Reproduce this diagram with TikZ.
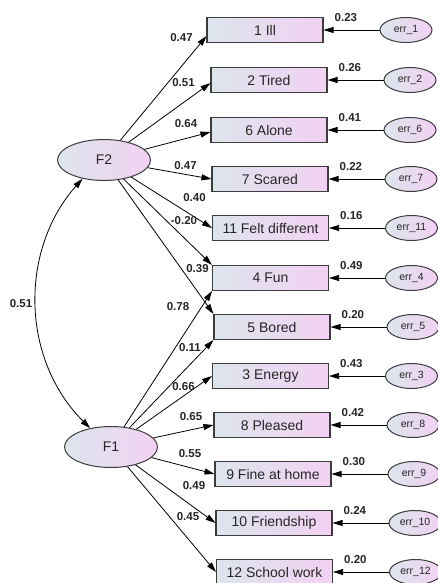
\documentclass[tikz,border=0pt]{standalone}
\usepackage{fontspec}
\setmainfont{Liberation Sans}
\usetikzlibrary{arrows.meta, shapes.geometric}

\definecolor{shadeblue}{RGB}{220,229,236}
\definecolor{shadepink}{RGB}{243,209,243}
\definecolor{rimgray}{RGB}{60,60,60}

\begin{document}
\begin{tikzpicture}[
    x=1pt, y=-1pt,
    >={Triangle[length=10pt, width=6pt]}, % filled heads as in AMOS
    item/.style={draw=rimgray, line width=1.1pt, left color=shadeblue, right color=shadepink,
        minimum width=116pt, minimum height=25pt, inner sep=0pt,
        font=\fontsize{14}{16}\selectfont, text=black!85}, % observed items
    factor/.style={ellipse, draw=rimgray, line width=1pt, left color=shadeblue, right color=shadepink,
        minimum width=93pt, minimum height=41pt, inner sep=0pt,
        font=\fontsize{14}{16}\selectfont, text=black!85}, % latent factors
    errterm/.style={ellipse, draw=rimgray, line width=1pt, left color=shadeblue, right color=shadepink,
        minimum width=52pt, minimum height=25pt, inner sep=0pt,
        font=\fontsize{10.5}{12}\selectfont, text=black!85}, % residuals
    load/.style={->, line width=0.8pt}, % factor loadings
    resid/.style={->, line width=0.8pt},
    coef/.style={font=\bfseries\fontsize{11.5}{13}\selectfont, inner sep=1pt, text=black!85}
]
    \useasboundingbox (0,0) rectangle (438,583);

    % === Latent factors ===
    \node[factor] (F2) at (104,160) {F2};
    \node[factor] (F1) at (111,447) {F1};

    % === Items ===
    \node[item] (ill)     at (265,30)    {1 Ill};
    \node[item] (tired)   at (269,80)    {2 Tired};
    \node[item] (alone)   at (269,130)   {6 Alone};
    \node[item] (scared)  at (270,179)   {7 Scared};
    \node[item] (felt)    at (270.5,228) {11 Felt different};
    \node[item] (fun)     at (270.5,278) {4 Fun};
    \node[item] (bored)   at (272,327)   {5 Bored};
    \node[item] (energy)  at (270.5,376) {3 Energy};
    \node[item] (pleased) at (272,425)   {8 Pleased};
    \node[item] (fine)    at (273,474)   {9 Fine at home};
    \node[item] (friend)  at (274,523)   {10 Friendship};
    \node[item] (school)  at (274.5,572) {12 School work};

    % === Error terms ===
    \node[errterm] (e1)  at (406,30)    {err\_1};
    \node[errterm] (e2)  at (410,80)    {err\_2};
    \node[errterm] (e6)  at (410,130)   {err\_6};
    \node[errterm] (e7)  at (411,179)   {err\_7};
    \node[errterm] (e11) at (411.5,228) {err\_11};
    \node[errterm] (e4)  at (411.5,278) {err\_4};
    \node[errterm] (e5)  at (413,327)   {err\_5};
    \node[errterm] (e3)  at (411.5,376) {err\_3};
    \node[errterm] (e8)  at (413,425)   {err\_8};
    \node[errterm] (e9)  at (414,474)   {err\_9};
    \node[errterm] (e10) at (415,523)   {err\_10};
    \node[errterm] (e12) at (415.5,572) {err\_12};

    % === Loadings on F2 ===
    \draw[load] (F2) -- (ill.186);
    \draw[load] (F2) -- (tired.183);
    \draw[load] (F2) -- (alone.182);
    \draw[load] (F2) -- (scared.west);
    \draw[load] (F2) -- (felt.west);
    \draw[load] (F2) -- (fun.north west);
    \draw[load] (F2) -- (bored.north west);

    % === Loadings on F1 ===
    \draw[load] (F1) -- (fun.south west);
    \draw[load] (F1) -- (bored.south west);
    \draw[load] (F1) -- (energy.west);
    \draw[load] (F1) -- (pleased.west);
    \draw[load] (F1) -- (fine.west);
    \draw[load] (F1) -- (friend.west);
    \draw[load] (F1) -- (school.west);

    % === Loading values ===
    \node[coef] (c-ill)     at (181.5,37.5) {0.47};
    \node[coef] (c-tired)   at (183.5,82.5) {0.51};
    \node[coef] (c-alone)   at (186,124)    {0.64};
    \node[coef] (c-scared)  at (185.5,166)  {0.47};
    \node[coef] (c-felt)    at (194.5,198)  {0.40};
    \node[coef] (c-funF2)   at (184,220.5)  {-0.20};
    \node[coef] (c-boredF2) at (197.5,269)  {0.39};
    \node[coef] (c-funF1)   at (178,307)    {0.78};
    \node[coef] (c-boredF1) at (190,347.5)  {0.11};
    \node[coef] (c-energy)  at (183.5,387)  {0.66};
    \node[coef] (c-pleased) at (191,417)    {0.65};
    \node[coef] (c-fine)    at (190,454)    {0.55};
    \node[coef] (c-friend)  at (194,486)    {0.49};
    \node[coef] (c-school)  at (188,517)    {0.45};

    % === Residual paths ===
    \draw[resid] (e1)  -- (ill)     node[coef, pos=0.6, above=7pt] {0.23};
    \draw[resid] (e2)  -- (tired)   node[coef, pos=0.6, above=7pt] {0.26};
    \draw[resid] (e6)  -- (alone)   node[coef, pos=0.6, above=7pt] {0.41};
    \draw[resid] (e7)  -- (scared)  node[coef, pos=0.6, above=7pt] {0.22};
    \draw[resid] (e11) -- (felt)    node[coef, pos=0.6, above=7pt] {0.16};
    \draw[resid] (e4)  -- (fun)     node[coef, pos=0.6, above=7pt] {0.49};
    \draw[resid] (e5)  -- (bored)   node[coef, pos=0.6, above=7pt] {0.20};
    \draw[resid] (e3)  -- (energy)  node[coef, pos=0.6, above=7pt] {0.43};
    \draw[resid] (e8)  -- (pleased) node[coef, pos=0.6, above=7pt] {0.42};
    \draw[resid] (e9)  -- (fine)    node[coef, pos=0.6, above=7pt] {0.30};
    \draw[resid] (e10) -- (friend)  node[coef, pos=0.6, above=7pt] {0.24};
    \draw[resid] (e12) -- (school)  node[coef, pos=0.6, above=7pt] {0.20};

    % === Factor covariance ===
    \draw[<->, line width=0.8pt] (F2.221) .. controls (20,249) and (20,358) .. (F1.138);
    \node[coef] (c-cov) at (21,303.5) {0.51};

\end{tikzpicture}
\end{document}
